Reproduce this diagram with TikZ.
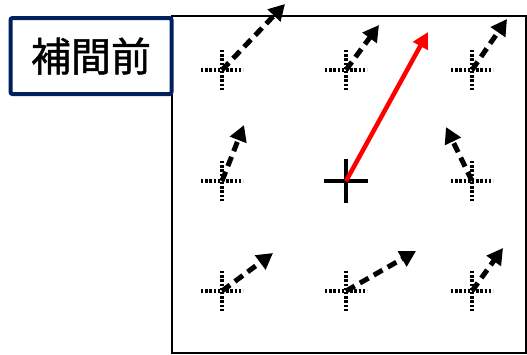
\documentclass[tikz,border=0pt]{standalone}
\usepackage{fontspec}
\newfontfamily\cjk[FakeBold=1.2]{Noto Sans CJK JP}
\usetikzlibrary{arrows.meta}
\definecolor{navy}{HTML}{002060}
\tikzset{
  gridcross/.style={line width=3.6pt, dash pattern=on 2.4pt off 1.8pt},
  vecarrow/.style={line width=5pt, dash pattern=on 10pt off 6pt, -{Triangle[length=16pt,width=17pt]}},
  redarrow/.style={line width=4.5pt, red, -{Triangle[length=16pt,width=16pt]}},
}
\begin{document}
\begin{tikzpicture}[x=1pt,y=-1pt]
\useasboundingbox (0,0) rectangle (527,354);
\node[draw, line width=2pt, minimum width=354pt, minimum height=337pt, anchor=north west, inner sep=0pt] (frame) at (171,15) {};
% grid points
\foreach \n/\x/\y in {a/222/70, b/346/70, c/472/70, d/222/181, f/472/181, g/222/291, h/346/291, i/472/291}{
  \coordinate (p\n) at (\x,\y);
  \draw[gridcross] (\x-21,\y) -- (\x+21,\y);
  \draw[gridcross] (\x,\y-20) -- (\x,\y+20);
}
\coordinate (pe) at (346,181);
\draw[line width=4.5pt] (324,181) -- (368,181);
\draw[line width=4.5pt] (346,159) -- (346,203);
% tips
\coordinate (ta) at (285,4);
\coordinate (tb) at (379,25);
\coordinate (tc) at (507,19);
\coordinate (td) at (244,125);
\coordinate (te) at (428,32);
\coordinate (tf) at (446,127);
\coordinate (tg) at (273,253);
\coordinate (th) at (416,251);
\coordinate (ti) at (503,248);
\foreach \n in {a,b,c,d,f,g,h,i}{
  \draw[vecarrow] (p\n) -- (t\n);
}
\draw[redarrow] (pe) -- (te);
% label
\node[draw=navy, line width=4pt, fill=white, rounded corners=2pt, minimum width=161pt, minimum height=76pt, anchor=north west, inner sep=0pt, font=\cjk\fontsize{40}{44}\selectfont] (label) at (8.5,16) {補間前};
\end{tikzpicture}
\end{document}
